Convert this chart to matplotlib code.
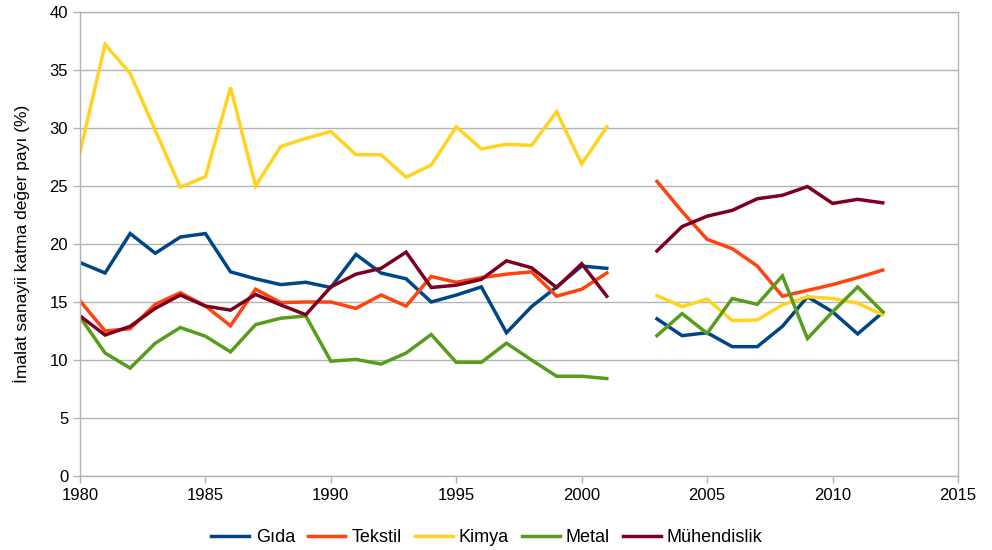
import numpy as np
import matplotlib
matplotlib.use("Agg")
import matplotlib.pyplot as plt

plt.rcParams['font.family'] = ['Liberation Sans', 'DejaVu Sans']

years = list(range(1980, 2013))
nan = np.nan

gida = [18.4, 17.5, 20.9, 19.2, 20.6, 20.9, 17.6, 17.0, 16.5, 16.7, 16.25,
        19.1, 17.5, 17.0, 15.0, 15.6, 16.3, 12.35, 14.6, 16.3, 18.1, 17.9,
        nan,
        13.55, 12.1, 12.35, 11.15, 11.15, 12.9, 15.45, 14.15, 12.25, 14.1]
tekstil = [15.1, 12.5, 12.7, 14.8, 15.8, 14.65, 12.95, 16.1, 14.95, 15.0, 15.0,
           14.45, 15.6, 14.65, 17.2, 16.7, 17.1, 17.4, 17.6, 15.5, 16.1, 17.5,
           nan,
           25.4, 22.8, 20.4, 19.6, 18.1, 15.5, 16.0, 16.5, 17.1, 17.75]
kimya = [27.9, 37.2, 34.7, 29.8, 24.9, 25.8, 33.5, 25.0, 28.4, 29.1, 29.7,
         27.7, 27.7, 25.75, 26.8, 30.1, 28.2, 28.6, 28.5, 31.4, 26.9, 30.1,
         nan,
         15.55, 14.6, 15.25, 13.4, 13.45, 14.75, 15.45, 15.3, 14.9, 13.9]
metal = [13.7, 10.6, 9.3, 11.45, 12.8, 12.05, 10.7, 13.05, 13.6, 13.8, 9.9,
         10.05, 9.65, 10.6, 12.2, 9.8, 9.8, 11.45, 10.0, 8.6, 8.6, 8.4,
         nan,
         12.1, 14.0, 12.3, 15.3, 14.8, 17.25, 11.85, 14.15, 16.3, 14.15]
muhendislik = [13.8, 12.15, 12.9, 14.45, 15.6, 14.65, 14.3, 15.65, 14.75, 13.9, 16.3,
               17.4, 17.9, 19.3, 16.25, 16.45, 16.95, 18.55, 17.95, 16.25, 18.3, 15.5,
               nan,
               19.4, 21.5, 22.4, 22.9, 23.9, 24.2, 24.95, 23.5, 23.85, 23.55]

series = [("Gıda", gida, "#004586"),
          ("Tekstil", tekstil, "#ff420e"),
          ("Kimya", kimya, "#ffd320"),
          ("Metal", metal, "#579d1c"),
          ("Mühendislik", muhendislik, "#7e0021")]

fig = plt.figure(figsize=(9.92, 5.5), dpi=100)
ax = fig.add_axes([80/992, 1-476/550, (958-80)/992, (476-12)/550])

for name, vals, col in series:
    ax.plot(years, vals, color=col, lw=2.5, label=name, solid_joinstyle='miter')

ax.set_xlim(1980, 2015)
ax.set_ylim(0, 40)
ax.set_xticks(range(1980, 2016, 5))
ax.set_yticks(range(0, 41, 5))
ax.yaxis.grid(True, color='#b3b3b3', lw=1)
ax.set_axisbelow(True)
for s in ax.spines.values():
    s.set_color('#b3b3b3')
    s.set_linewidth(1)
ax.tick_params(axis='both', colors='#b3b3b3', length=5, width=1, labelcolor='black', labelsize=12)
ax.set_ylabel("İmalat sanayii katma değer payı (%)", fontsize=12.5, labelpad=14)

ax.legend(loc='upper center', bbox_to_anchor=(0.4636, -0.08), ncol=5, frameon=False,
          fontsize=13, handlelength=2.1, columnspacing=0.7, handletextpad=0.35)

fig.savefig("out.png", dpi=100)
